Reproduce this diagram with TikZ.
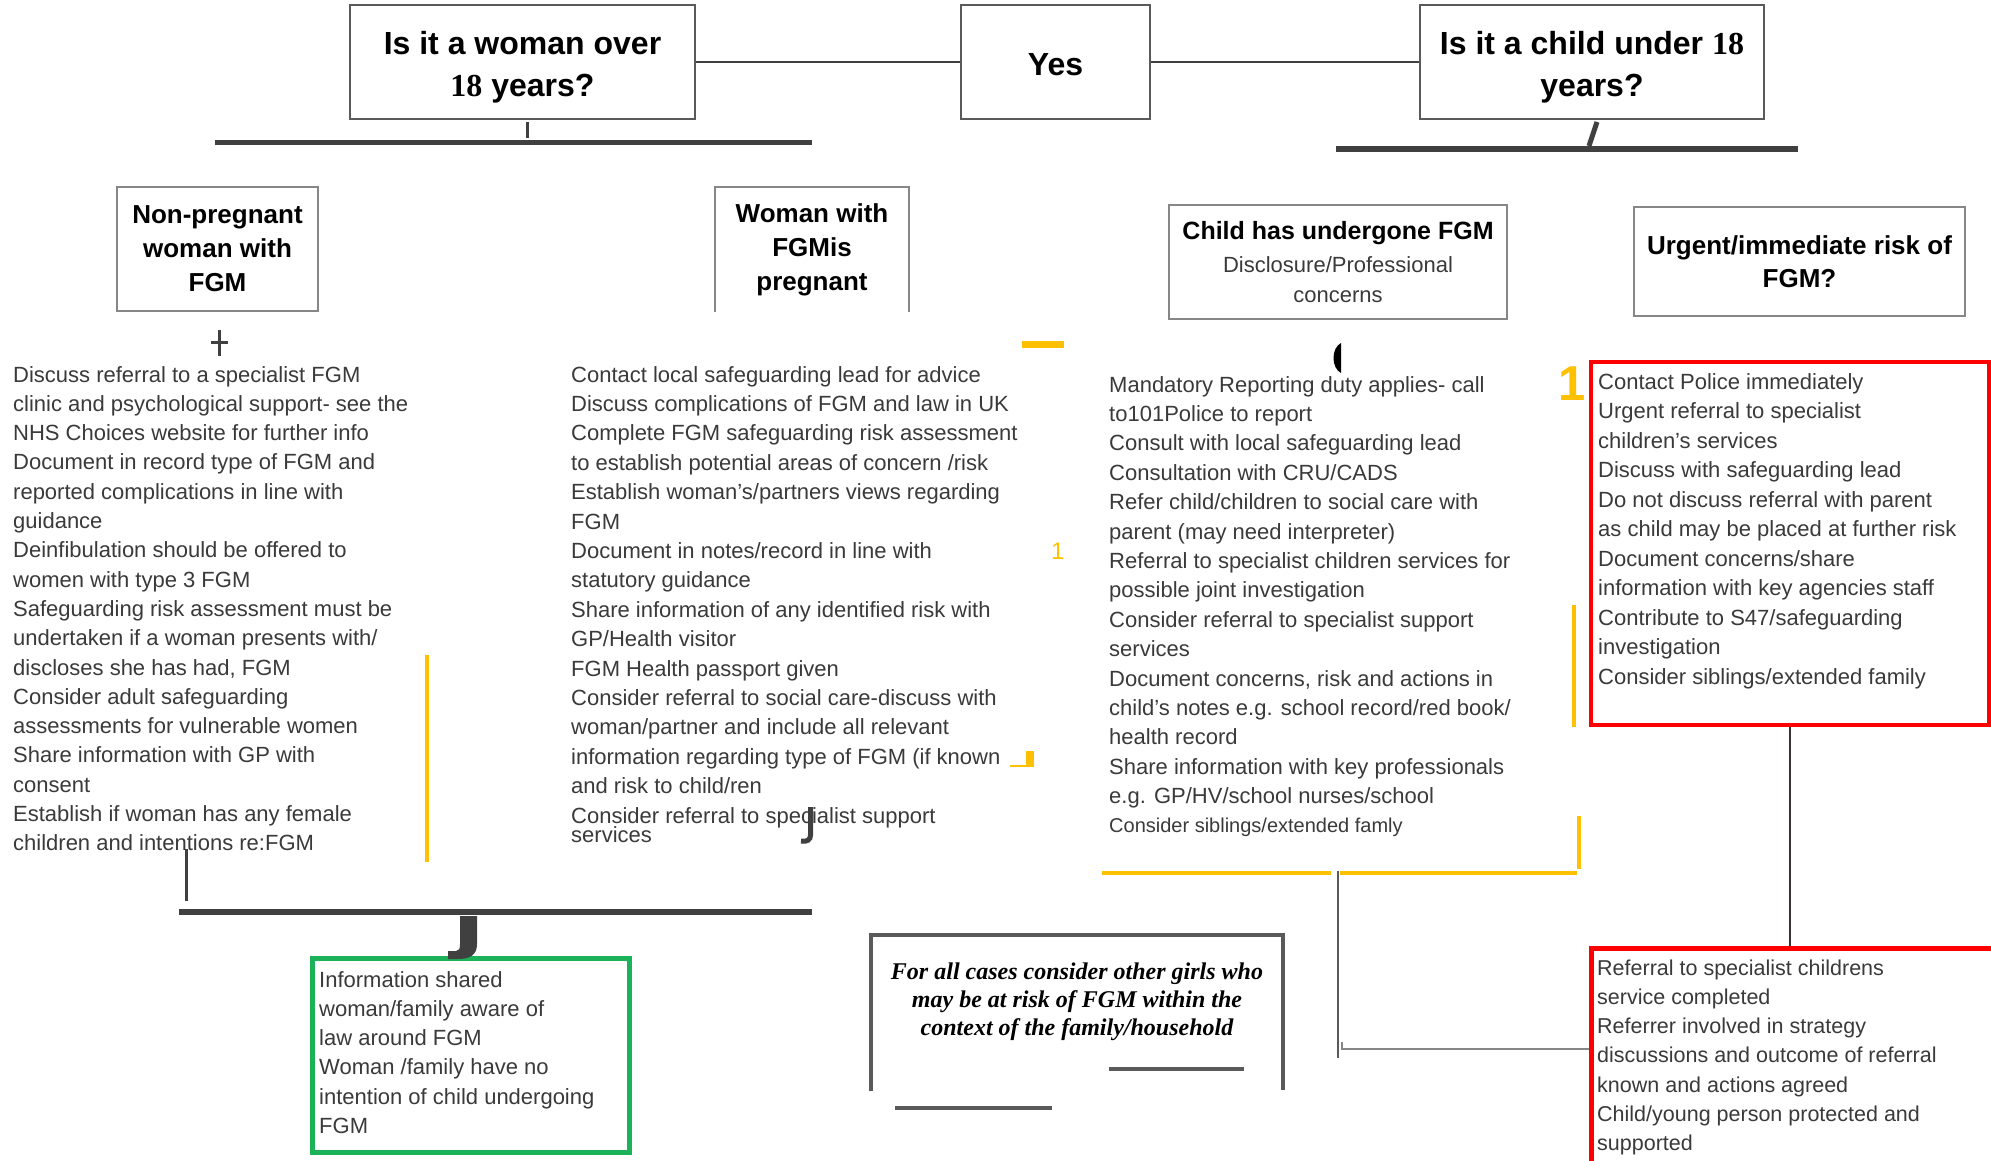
\documentclass[tikz,border=0pt]{standalone}
\usepackage{fontspec}
\setmainfont{Liberation Sans}
\newfontfamily\tnr{Liberation Serif}
\definecolor{barc}{RGB}{64,64,64}
\definecolor{gold}{RGB}{255,192,0}
\definecolor{redb}{RGB}{255,0,0}
\definecolor{grn}{RGB}{28,178,90}
\definecolor{txt}{RGB}{58,58,58}
\definecolor{boxg}{RGB}{135,135,135}
\definecolor{topg}{RGB}{90,90,90}
\definecolor{lnk}{RGB}{60,50,50}
\tikzset{
  topbox/.style={draw=topg, line width=1.6pt, inner sep=0pt},
  toptext/.style={inner sep=0pt, align=center, text=black, font=\fontsize{32}{42}\selectfont\bfseries},
  lvbox/.style={draw=boxg, line width=1.8pt, inner sep=0pt, align=center, text=black,
    font=\fontsize{26}{34}\selectfont\bfseries},
  body/.style={anchor=base west, inner sep=0pt, text=txt, font=\fontsize{22}{29}\selectfont},
  darkbar/.style={draw=barc, line width=5pt},
  goldline/.style={draw=gold, line width=4.5pt},
  link/.style={draw=barc, line width=2pt},
  framebar/.style={draw=topg, line width=4pt},
}
\begin{document}
\begin{tikzpicture}[x=1pt,y=-1pt]
\fill[white] (0,0) rectangle (1991,1160);
\useasboundingbox (0,0) rectangle (1991,1160);

% top row
\node[topbox, minimum width=345pt, minimum height=114pt] (q1) at (522.5,62) {};
\node[toptext] (q1t) at (522.5,67) {Is it a woman over\\{\tnr\bfseries 18} years?};
\node[topbox, minimum width=189pt, minimum height=114pt] (yes) at (1055.5,62) {};
\node[toptext] (yest) at (1055.5,65) {Yes};
\node[topbox, minimum width=344pt, minimum height=114pt] (q2) at (1592,62) {};
\node[toptext] (q2t) at (1592,67) {Is it a child under {\tnr\bfseries 18}\\years?};
\draw[link] (q1.east) -- (yes.west);
\draw[link] (yes.east) -- (q2.west);

% bars below the questions
\draw[barc, line width=3pt] (527,122) -- (527,138);
\draw[darkbar] (215,142) -- (812,142);
\draw[barc, line width=5pt] (1597,122) -- (1589,146);
\draw[darkbar, line width=6pt] (1336,149) -- (1798,149);

% second level boxes
\node[lvbox, minimum width=201pt, minimum height=124pt] (np) at (217.5,249) {Non-pregnant\\woman with\\FGM};
\node[lvbox, draw=none, minimum width=192pt, minimum height=123pt] (pg) at (812,249.5) {Woman with\\FGMis\\pregnant};
\draw[boxg, line width=1.8pt] (pg.south west) -- (pg.north west) -- (pg.north east) -- (pg.south east);
\node[lvbox, minimum width=338pt, minimum height=114pt, font=\fontsize{22}{30}\selectfont] (cf) at (1338,262)
  {{\fontsize{25}{30}\selectfont\bfseries Child has undergone FGM}\\[3pt]{\color{txt}Disclosure/Professional}\\{\color{txt}concerns}};
\node[lvbox, minimum width=331pt, minimum height=109pt, font=\fontsize{26}{33}\selectfont\bfseries] (ur) at (1799.5,261.5) {Urgent/immediate risk of\\FGM?};

% cross under non-pregnant
\draw[barc, line width=3pt] (219,330) -- (219,356);
\draw[barc, line width=3pt] (211,342) -- (228,342);

% left column
\foreach \t [count=\i from 0] in {
 {Discuss referral  to a specialist FGM},
 {clinic  and psychological support- see the},
 {NHS Choices website for further  info},
 {Document  in record type of FGM and},
 {reported complications  in line with},
 {guidance},
 {Deinfibulation should  be offered to},
 {women  with type 3 FGM},
 {Safeguarding risk assessment must  be},
 {undertaken if a woman  presents with/},
 {discloses she has had, FGM},
 {Consider adult safeguarding},
 {assessments for vulnerable  women},
 {Share information with  GP with},
 {consent},
 {Establish if woman  has any female},
 {children  and intentions re:FGM}}
 \node[body] (left-\i) at (13,{382+29.3*\i}) {\t};

% middle column
\foreach \t [count=\i from 0] in {
 {Contact local safeguarding lead for advice},
 {Discuss complications of FGM and law in UK},
 {Complete FGM safeguarding risk assessment},
 {to establish potential areas of concern /risk},
 {Establish woman's/partners  views regarding},
 {FGM},
 {Document  in notes/record in line with},
 {statutory  guidance},
 {Share information of any identified risk with},
 {GP/Health visitor},
 {FGM Health passport given},
 {Consider referral to social care-discuss with},
 {woman/partner and include all relevant},
 {information regarding type of FGM (if known},
 {and risk to child/ren},
 {Consider referral to specialist support}}
 \node[body] (mid-\i) at (571,{382+29.4*\i}) {\t};
\node[body] (mid-last) at (571,842) {services};

% child column
\foreach \t [count=\i from 0] in {
 {Mandatory Reporting duty applies- call},
 {to101Police to report},
 {Consult with local safeguarding lead},
 {Consultation with  CRU/CADS},
 {Refer child/children to social care with},
 {parent  (may need interpreter)},
 {Referral to specialist children services for},
 {possible joint  investigation},
 {Consider referral to specialist support},
 {services},
 {Document concerns, risk and actions in},
 {child's notes e.g. school record/red book/},
 {health record},
 {Share information with key professionals},
 {e.g. GP/HV/school nurses/school}}
 \node[body] (ch-\i) at (1109,{392+29.4*\i}) {\t};
\node[body, font=\fontsize{20}{24}\selectfont] (ch-last) at (1109,832) {Consider siblings/extended famly};

% red box 1
\node[draw=redb, line width=3.5pt, minimum width=398pt, minimum height=363pt, inner sep=0pt] (rb1) at (1790,543.5) {};
\foreach \t [count=\i from 0] in {
 {Contact  Police  immediately},
 {Urgent  referral to  specialist},
 {children's  services},
 {Discuss with  safeguarding  lead},
 {Do not  discuss referral with parent},
 {as child may be placed at further risk},
 {Document concerns/share},
 {information with  key agencies staff},
 {Contribute to S47/safeguarding},
 {investigation},
 {Consider siblings/extended family}}
 \node[body] (rd-\i) at (1598,{389+29.5*\i}) {\t};

% red box 2
\node[draw=redb, line width=5pt, minimum width=404pt, minimum height=220pt, inner sep=0pt] (rb2) at (1793,1058) {};
\foreach \t [count=\i from 0] in {
 {Referral to specialist childrens},
 {service completed},
 {Referrer involved in strategy},
 {discussions and outcome of referral},
 {known and actions agreed},
 {Child/young person protected and},
 {supported}}
 \node[body, font=\fontsize{21.5}{29}\selectfont] (rl-\i) at (1597,{975+29.3*\i}) {\t};
\draw[lnk, line width=2pt] (rb1.south) -- (rb1.south |- rb2.north);

% green box
\node[draw=grn, line width=5pt, minimum width=317pt, minimum height=194pt, inner sep=0pt] (gb) at (471,1055) {};
\foreach \t [count=\i from 0] in {
 {Information shared},
 {woman/family aware of},
 {law around  FGM},
 {Woman /family  have no},
 {intention of child undergoing},
 {FGM}}
 \node[body] (gr-\i) at (319,{987+29.3*\i}) {\t};

% left bottom connectors
\draw[barc, line width=3pt] (186,849) -- (186,901);
\draw[darkbar, line width=6pt] (179,912) -- (812,912);
\fill[barc] (460,916) -- (477,916) -- (477,944) .. controls (477,955) and (470,959) .. (458,959) -- (448,959) -- (448,951) -- (456,951) .. controls (459,951) and (460,949) .. (460,944) -- cycle;
\draw[barc, line width=5pt] (810.5,807) -- (810.5,835) .. controls (810.5,840) and (807,842) .. (801,841);

% yellow marks
\draw[goldline] (427,655) -- (427,862);
\fill[gold] (1022,341) rectangle (1064,348);
\fill[gold] (1026,751) rectangle (1034,767);
\draw[gold, line width=2pt] (1010,766) -- (1034,766);
\node[anchor=base west, inner sep=0pt, text=gold, font=\fontsize{24}{24}\selectfont] (one-s) at (1051,559) {1};
\node[anchor=base west, inner sep=0pt, text=gold, font=\fontsize{49}{49}\selectfont\bfseries] (one-b) at (1558,400) {1};
\fill[black] (1341,343) .. controls (1331,348) and (1331,368) .. (1341,373) -- cycle;
\draw[goldline] (1574,605) -- (1574,727);
\draw[goldline] (1579,816) -- (1579,869);
\draw[gold, line width=4pt] (1102,873) -- (1331,873);
\draw[gold, line width=4pt] (1340,873) -- (1577,873);

% gray connector to lower red box
\coordinate (gtop) at (1338,871);
\coordinate (gbot) at (1338,1058);
\coordinate (gk) at (1342,1042);
\draw[draw=topg, line width=2pt] (gtop) -- (gbot);
\draw[draw=boxg, line width=2pt] (gk) |- (rb2.west |- 0,1049);

% middle bottom note
\draw[framebar] (871,1091) -- (871,935) -- (1283,935) -- (1283,1090);
\draw[framebar] (1109,1069) -- (1244,1069);
\draw[framebar] (895,1108) -- (1052,1108);
\node[align=center, inner sep=0pt, text=black, font=\tnr\bfseries\itshape\fontsize{24}{28}\selectfont] (note) at (1077,1002)
  {For all cases  consider  other girls who\\may  be  at risk of FGM within  the\\context of the  family/household};
\end{tikzpicture}
\end{document}
